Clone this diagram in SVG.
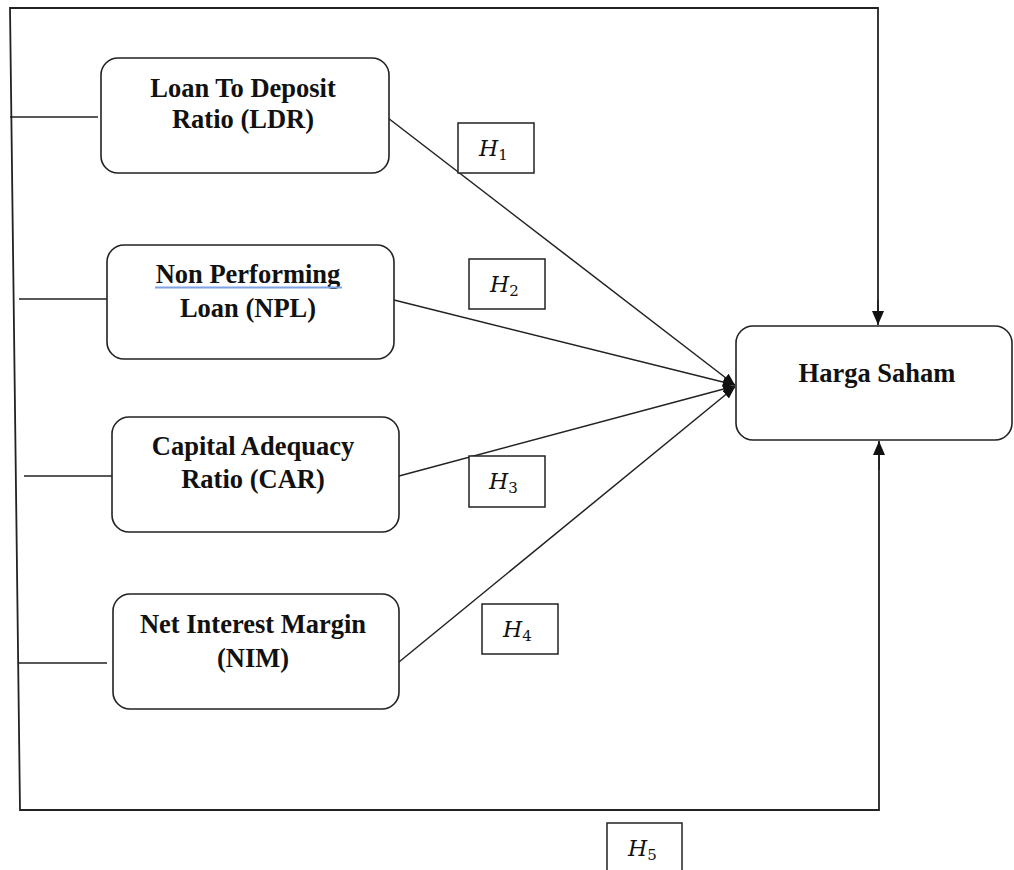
<svg xmlns="http://www.w3.org/2000/svg" width="1014" height="870" viewBox="0 0 1014 870">
<style>
.frame{fill:none;stroke:#222;stroke-width:1.8}
.ln{fill:none;stroke:#222;stroke-width:1.5}
.box{fill:#fff;stroke:#222;stroke-width:1.6}
.hbox{fill:#fff;stroke:#222;stroke-width:1.5}
.t{font-family:"Liberation Serif","Times New Roman",serif;font-weight:bold;font-size:26.5px;fill:#111;text-anchor:middle}
.h{font-family:"DejaVu Serif","Liberation Serif",serif;font-style:italic;font-size:22px;fill:#111}
.sub{font-family:"DejaVu Serif","Liberation Serif",serif;font-size:15px;fill:#111;font-style:normal}
</style>
<defs>
<marker id="arr" viewBox="0 0 12 10" refX="12" refY="5" markerWidth="12" markerHeight="10" markerUnits="userSpaceOnUse" orient="auto">
<path d="M0,0 L12,5 L0,10 Z" fill="#111"/>
</marker>
<marker id="arrb" viewBox="0 0 14 12" refX="14" refY="6" markerWidth="14" markerHeight="12" markerUnits="userSpaceOnUse" orient="auto">
<path d="M0,0 L14,6 L0,12 Z" fill="#111"/>
</marker>
</defs>
<rect width="1014" height="870" fill="#fff"/>
<g id="connectors">
<polyline class="frame" points="878,312 878,8 10,8 20,810 879,810 879,455" />
<line class="frame" x1="878" y1="300" x2="878" y2="325" marker-end="url(#arrb)"/>
<line class="frame" x1="879" y1="470" x2="879" y2="441" marker-end="url(#arrb)"/>
<line class="ln" x1="10" y1="117" x2="98" y2="117"/>
<line class="ln" x1="19" y1="299" x2="107" y2="299"/>
<line class="ln" x1="24" y1="476" x2="112" y2="476"/>
<line class="ln" x1="18" y1="663" x2="107" y2="663"/>
<line class="ln" x1="388" y1="118" x2="735" y2="385" marker-end="url(#arr)"/>
<line class="ln" x1="394" y1="300" x2="735" y2="385" marker-end="url(#arr)"/>
<line class="ln" x1="399" y1="476" x2="735" y2="386" marker-end="url(#arr)"/>
<line class="ln" x1="399" y1="662" x2="735" y2="387" marker-end="url(#arr)"/>
</g>
<g id="ldr">
<rect class="box" x="101" y="58" width="288" height="115" rx="17"/>
<text class="t" x="243" y="97">Loan To Deposit</text>
<text class="t" x="243" y="128">Ratio (LDR)</text>
</g>
<g id="npl">
<rect class="box" x="107" y="245" width="287" height="114" rx="17"/>
<text class="t" x="248" y="283">Non Performing</text>
<path d="M155,287.5 L342,287.5" fill="none" stroke="#7fa2e6" stroke-width="2.2"/>
<text class="t" x="248" y="317">Loan (NPL)</text>
</g>
<g id="car">
<rect class="box" x="112" y="417" width="287" height="115" rx="17"/>
<text class="t" x="253" y="455">Capital Adequacy</text>
<text class="t" x="253" y="488">Ratio (CAR)</text>
</g>
<g id="nim">
<rect class="box" x="113" y="594" width="286" height="115" rx="17"/>
<text class="t" x="253" y="633">Net Interest Margin</text>
<text class="t" x="253" y="667">(NIM)</text>
</g>
<g id="harga">
<rect class="box" x="736" y="326" width="276" height="114" rx="17"/>
<text class="t" x="877" y="382">Harga Saham</text>
</g>
<g id="h1">
<rect class="hbox" x="458" y="123" width="76" height="50"/>
<text class="h" x="479" y="156">H<tspan class="sub" dy="4">1</tspan></text>
</g>
<g id="h2">
<rect class="hbox" x="469" y="259" width="76" height="50"/>
<text class="h" x="490" y="292">H<tspan class="sub" dy="4">2</tspan></text>
</g>
<g id="h3">
<rect class="hbox" x="469" y="456" width="76" height="51"/>
<text class="h" x="489" y="489">H<tspan class="sub" dy="4">3</tspan></text>
</g>
<g id="h4">
<rect class="hbox" x="482" y="604" width="76" height="50"/>
<text class="h" x="503" y="637">H<tspan class="sub" dy="4">4</tspan></text>
</g>
<g id="h5">
<rect class="hbox" x="607" y="823" width="75" height="60"/>
<text class="h" x="628" y="856">H<tspan class="sub" dy="4">5</tspan></text>
</g>
</svg>
